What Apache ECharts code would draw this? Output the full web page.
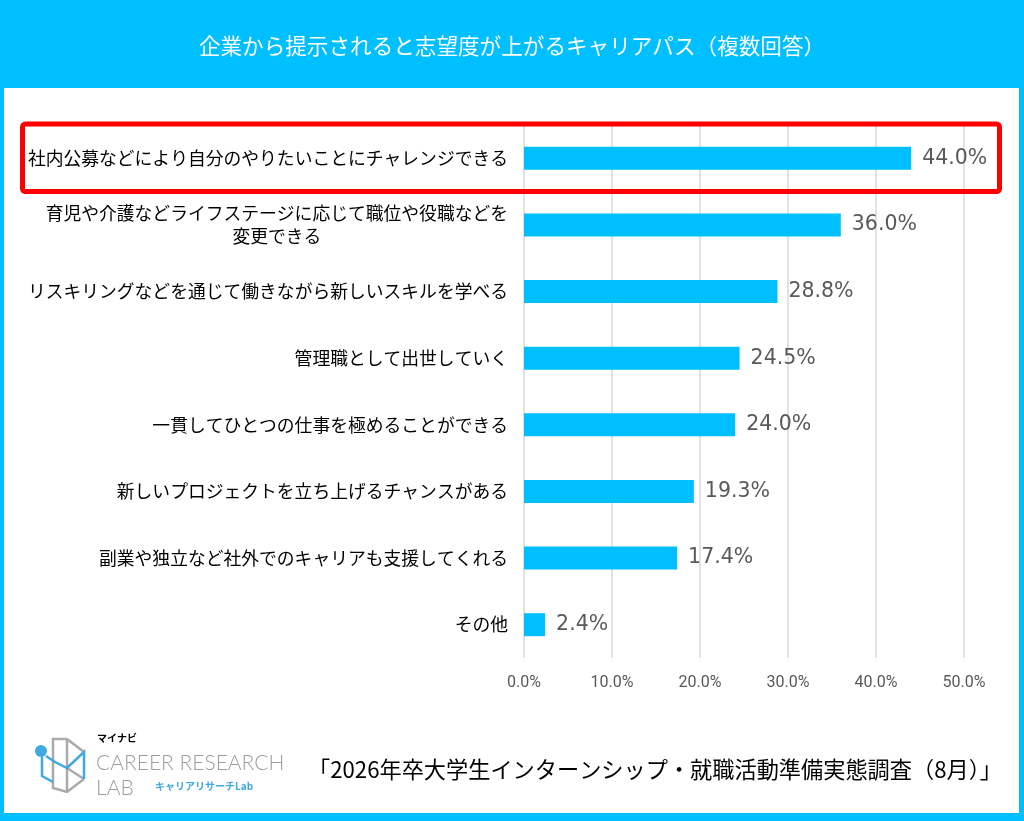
<!DOCTYPE html>
<html>
<head>
<meta charset="utf-8">
<script src="https://cdn.jsdelivr.net/npm/echarts@6/dist/echarts.min.js"></script>
<style>
html,body{margin:0;padding:0;background:#00BFFF;}
#chart{width:1024px;height:821px;}
</style>
</head>
<body>
<div id="chart"></div>
<script>
const titleText = '企業から提示されると志望度が上がるキャリアパス（複数回答）';
const sourceText = '「2026年卒大学生インターンシップ・就職活動準備実態調査（8月）」';
const categories = [
  '社内公募などにより自分のやりたいことにチャレンジできる',
  '育児や介護などライフステージに応じて職位や役職などを\n変更できる',
  'リスキリングなどを通じて働きながら新しいスキルを学べる',
  '管理職として出世していく',
  '一貫してひとつの仕事を極めることができる',
  '新しいプロジェクトを立ち上げるチャンスがある',
  '副業や独立など社外でのキャリアも支援してくれる',
  'その他'
];
const values = [44.0, 36.0, 28.8, 24.5, 24.0, 19.3, 17.4, 2.4];
const axisMin = 0, axisMax = 50, axisStep = 10;

const CYAN = '#00BFFF';
const JP = '"Noto Sans CJK JP", "Noto Sans", sans-serif';

const chart = echarts.init(document.getElementById('chart'), null, {renderer: 'canvas'});

const option = {
  backgroundColor: CYAN,
  animation: false,
  grid: {left: 524, width: 440, top: 125, bottom: 163, containLabel: false},
  xAxis: {
    type: 'value', min: axisMin, max: axisMax, interval: axisStep,
    axisLine: {show: false}, axisTick: {show: false},
    splitLine: {show: true, lineStyle: {color: '#d9d9d9', width: 1.5}},
    axisLabel: {
      color: '#595959', fontFamily: 'Roboto, "Noto Sans", sans-serif', fontSize: 16, margin: 17,
      formatter: v => v.toFixed(1) + '%'
    }
  },
  yAxis: {
    type: 'category', data: categories, inverse: true,
    axisLine: {show: false}, axisTick: {show: false},
    axisLabel: {
      color: '#000', fontFamily: JP, fontSize: 17.8, margin: 16, align: 'right',
      formatter: v => v.indexOf('\n') >= 0 ? v.split('\n').map(s => '{c|' + s + '}').join('\n') : v,
      rich: {c: {align: 'center', color: '#000', fontFamily: JP, fontSize: 17.8, lineHeight: 23}}
    }
  },
  series: [{
    type: 'bar', data: values, barWidth: 23,
    itemStyle: {color: CYAN},
    label: {
      show: true, position: 'right', distance: 11,
      color: '#595959', fontFamily: '"DejaVu Sans", sans-serif', fontSize: 20.5,
      formatter: p => p.value.toFixed(1) + '%'
    }
  }],
  graphic: [
    {type: 'rect', z: -10, shape: {x: 4, y: 88, width: 1015, height: 725}, style: {fill: '#fff'}, silent: true},
    {type: 'text', x: 512, y: 46, style: {text: titleText, fill: '#fff', font: '21.6px ' + JP, textAlign: 'center', textVerticalAlign: 'middle'}},
    {type: 'rect', z: 100, shape: {x: 22.5, y: 124, width: 977, height: 67.5, r: 3}, style: {fill: 'none', stroke: '#FF0000', lineWidth: 5}},
    {type: 'text', x: 655, y: 770, style: {text: sourceText, fill: '#000', font: '22.2px ' + JP, textAlign: 'center', textVerticalAlign: 'middle'}},
    // logo
    {type: 'polyline', shape: {points: [[67,739],[53,739],[53,788],[67,792],[84,779]]}, style: {stroke: '#aaaaaa', lineWidth: 2.5, fill: 'none'}},
    {type: 'polyline', shape: {points: [[67,739],[84,752]]}, style: {stroke: '#aaaaaa', lineWidth: 2.5}},
    {type: 'polyline', shape: {points: [[67,739],[67,792]]}, style: {stroke: '#aaaaaa', lineWidth: 2.5}},
    {type: 'polyline', shape: {points: [[67,768],[84,779]]}, style: {stroke: '#aaaaaa', lineWidth: 2.5}},
    {type: 'polyline', shape: {points: [[46,756],[55,762],[67,768],[84,752],[84,779]]}, style: {stroke: '#3fa9e0', lineWidth: 2.5, fill: 'none'}},
    {type: 'polyline', shape: {points: [[42,757],[42,776],[53,782]]}, style: {stroke: '#3fa9e0', lineWidth: 2.5, fill: 'none'}},
    {type: 'circle', shape: {cx: 41, cy: 751, r: 6}, style: {fill: '#3fa9e0'}},
    {type: 'text', x: 97, y: 738, style: {text: 'マイナビ', fill: '#000', font: 'bold 10px ' + JP, textVerticalAlign: 'middle'}},
    {type: 'text', x: 96, y: 763, style: {text: 'CAREER RESEARCH', fill: '#9d9d9d', font: '300 21px Lato, "Noto Sans", sans-serif', textVerticalAlign: 'middle'}},
    {type: 'text', x: 96, y: 788, style: {text: 'LAB', fill: '#9d9d9d', font: '300 21px Lato, "Noto Sans", sans-serif', textVerticalAlign: 'middle'}},
    {type: 'text', x: 155, y: 786, style: {text: 'キャリアリサーチLab', fill: '#3fa9e0', font: 'bold 10px ' + JP, textVerticalAlign: 'middle'}}
  ]
};
chart.setOption(option);
</script>
</body>
</html>
